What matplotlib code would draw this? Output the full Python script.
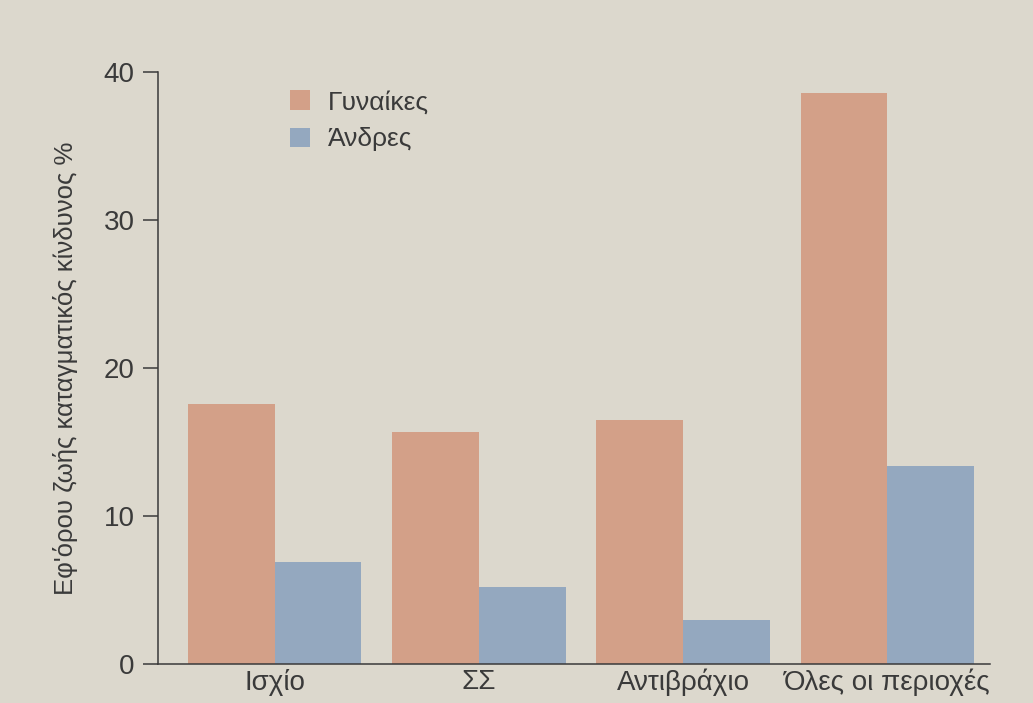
import matplotlib.pyplot as plt
import numpy as np

plt.rcParams['font.family'] = ['Liberation Sans Narrow', 'Liberation Sans', 'DejaVu Sans']

regions = ["Ισχίο", "ΣΣ", "Αντιβράχιο", "Όλες οι περιοχές"]
women = [17.6, 15.7, 16.5, 38.6]
men = [6.9, 5.2, 3.0, 13.4]
yticks = [0, 10, 20, 30, 40]

bg = "#dcd8cd"
c_women = "#d3a088"
c_men = "#94a8bf"
ink = "#3a3a3a"

fig = plt.figure(figsize=(10.33, 7.03), dpi=100, facecolor=bg)
ax = fig.add_axes([0.153, 0.055, 0.805, 0.842], facecolor=bg)

x = np.arange(len(regions))
w = 0.425
ax.bar(x - w / 2, women, w, color=c_women, label="Γυναίκες")
ax.bar(x + w / 2, men, w, color=c_men, label="Άνδρες")

ax.set_xlim(-0.57, 3.5)
ax.set_ylim(0, 40)
ax.set_yticks(yticks)
ax.tick_params(axis="y", direction="out", length=11, width=1.1, color=ink,
               labelsize=20, labelcolor=ink, pad=6)
ax.set_xticks(x)
ax.set_xticklabels(regions)
ax.tick_params(axis="x", length=0, labelsize=20, labelcolor=ink, pad=3)

for side in ("top", "right"):
    ax.spines[side].set_visible(False)
for side in ("left", "bottom"):
    ax.spines[side].set_color(ink)
    ax.spines[side].set_linewidth(1.1)

ax.set_ylabel("Εφ'όρου ζωής καταγματικός κίνδυνος %", fontsize=18.5,
              color=ink, labelpad=18)

ax.legend(loc="upper left", bbox_to_anchor=(0.13, 1.01), frameon=False,
          fontsize=19, labelcolor=ink, handlelength=0.75, handleheight=0.75,
          handletextpad=0.7, labelspacing=0.5)

fig.savefig("out.png", dpi=100, facecolor=bg)
